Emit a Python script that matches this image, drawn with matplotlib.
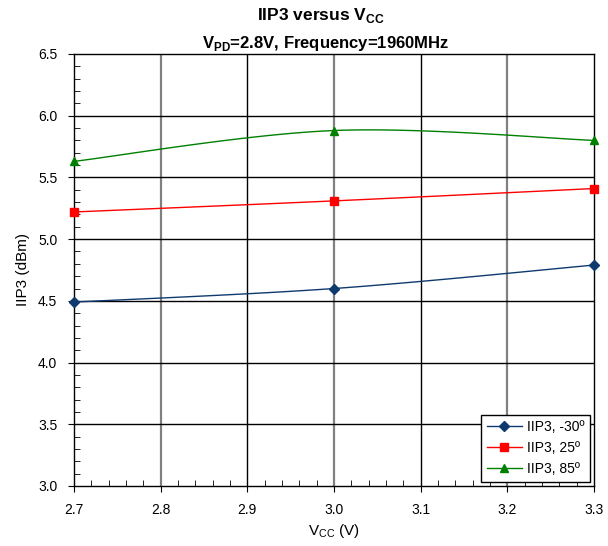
import matplotlib
matplotlib.use("Agg")
import matplotlib.pyplot as plt
import numpy as np
from matplotlib.ticker import MultipleLocator, FormatStrFormatter

plt.rcParams['font.family'] = ['Liberation Sans', 'DejaVu Sans']
plt.rcParams['mathtext.fontset'] = 'custom'
plt.rcParams['mathtext.rm'] = 'Liberation Sans'
plt.rcParams['mathtext.bf'] = 'Liberation Sans:bold'

vcc = [2.7, 3.0, 3.3]
iip3_m30 = [4.49, 4.60, 4.79]
iip3_25 = [5.22, 5.31, 5.41]
iip3_85 = [5.63, 5.88, 5.80]
labels = ["IIP3, -30º", "IIP3, 25º", "IIP3, 85º"]


def smooth(x, y, n=40):
    # Excel-like bezier smoothing through the points
    p = np.column_stack([x, y]).astype(float)
    pts = np.vstack([p[0], p, p[-1]])
    out = []
    t = np.linspace(0, 1, n)[:, None]
    for i in range(1, len(pts) - 2):
        p0, p3 = pts[i], pts[i + 1]
        c1 = p0 + (pts[i + 1] - pts[i - 1]) / 6
        c2 = p3 - (pts[i + 2] - pts[i]) / 6
        seg = (1 - t) ** 3 * p0 + 3 * (1 - t) ** 2 * t * c1 + 3 * (1 - t) * t ** 2 * c2 + t ** 3 * p3
        out.append(seg)
    seg = np.vstack(out)
    return seg[:, 0], seg[:, 1]


fig = plt.figure(figsize=(6.08, 5.46), dpi=100)
ax = fig.add_axes([0.1217, 0.1099, 0.8553, 0.7912])

series = [(iip3_m30, '#0f3a6e', 'D', 5), (iip3_25, '#ff0000', 's', 6), (iip3_85, '#008000', '^', 6)]
handles = []
for (vals, col, mk, ms), lab in zip(series, labels):
    sx, sy = smooth(vcc, vals)
    ax.plot(sx, sy, color=col, lw=1, zorder=3)
    ax.plot(vcc, vals, ls='none', marker=mk, color=col, ms=ms, zorder=4, clip_on=False)
    h, = ax.plot([], [], color=col, lw=1, marker=mk, ms=ms)
    handles.append(h)

ax.set_xlim(2.7, 3.3)
ax.set_ylim(3.0, 6.5)
ax.xaxis.set_major_locator(MultipleLocator(0.1))
ax.xaxis.set_minor_locator(MultipleLocator(0.02))
ax.yaxis.set_major_locator(MultipleLocator(0.5))
ax.yaxis.set_minor_locator(MultipleLocator(0.1))
ax.xaxis.set_major_formatter(FormatStrFormatter('%.1f'))
ax.yaxis.set_major_formatter(FormatStrFormatter('%.1f'))
ax.tick_params(which='major', direction='out', length=4, labelsize=10, pad=8)
ax.tick_params(which='minor', direction='in', length=4)

for xv in [2.8, 2.9, 3.0, 3.1, 3.2]:
    even = abs(round(xv * 10) % 2) == 0
    ax.axvline(xv, color='#808080' if even else 'black', lw=1.6 if even else 1, zorder=1)
for yv in [3.5, 4.0, 4.5, 5.0, 5.5, 6.0]:
    ax.axhline(yv, color='black', lw=1, zorder=1)

for s in ax.spines.values():
    s.set_linewidth(1)

ax.set_xlabel("V$_{\\mathrm{CC}}$ (V)", fontsize=11, labelpad=4)
ax.set_ylabel("IIP3 (dBm)", fontsize=11, labelpad=6)
fig.text(0.527, 0.972, "IIP3 versus V$_{\\mathbf{CC}}$", ha='center', va='center',
         fontsize=12.5, fontweight='bold')
fig.text(0.536, 0.92, "V$_{\\mathbf{PD}}$=2.8V, Frequency=1960MHz", ha='center', va='center',
         fontsize=12, fontweight='bold')

leg = ax.legend(handles, labels, loc='lower right', fontsize=10, fancybox=False,
                edgecolor='black', framealpha=1, borderpad=0.4, handlelength=2.5,
                handletextpad=0.4, labelspacing=0.5, bbox_to_anchor=(0.993, 0.01),
                borderaxespad=0)
leg.get_frame().set_linewidth(1)

fig.savefig("out.png", dpi=100)
